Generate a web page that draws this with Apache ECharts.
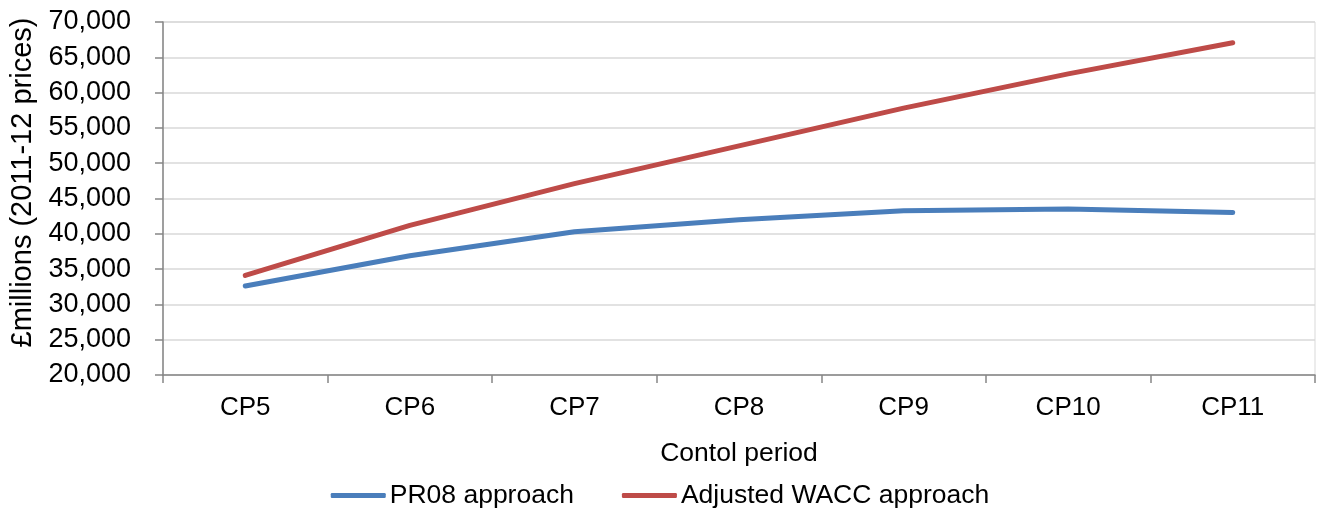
<!DOCTYPE html>
<html>
<head>
<meta charset="utf-8">
<script src="https://cdn.jsdelivr.net/npm/echarts@6/dist/echarts.min.js"></script>
<style>
html,body{margin:0;padding:0;background:#fff;}
#c{width:1320px;height:514px;}
</style>
</head>
<body>
<div id="c"></div>
<script>
var categories = ['CP5','CP6','CP7','CP8','CP9','CP10','CP11'];
var pr08 = [32600, 36900, 40300, 42000, 43250, 43500, 43000];
var wacc = [34100, 41200, 47100, 52450, 57800, 62650, 67050];
var seriesNames = ['PR08 approach', 'Adjusted WACC approach'];

var FONT = 'Liberation Sans';
var chart = echarts.init(document.getElementById('c'));
chart.setOption({
  animation: false,
  textStyle: {fontFamily: FONT, color: '#000'},
  grid: {left: 163, right: 5, top: 22, bottom: 139, show: true, borderColor: '#d9d9d9', borderWidth: 1,
         containLabel: false, outerBoundsMode: 'none'},
  legend: {
    data: seriesNames,
    bottom: 0,
    left: 'center',
    icon: 'roundRect',
    itemWidth: 55,
    itemHeight: 5,
    itemGap: 48,
    textStyle: {fontFamily: FONT, fontSize: 26.5, color: '#000', padding: [0,0,0,-1]}
  },
  xAxis: {
    type: 'category',
    data: categories,
    boundaryGap: true,
    name: 'Contol period',
    nameLocation: 'middle',
    nameGap: 65,
    nameTextStyle: {fontFamily: FONT, fontSize: 26.5, color: '#000'},
    axisLine: {show: true, lineStyle: {color: '#868686', width: 1.5}},
    axisTick: {show: true, length: 8, lineStyle: {color: '#868686', width: 1.5}},
    axisLabel: {fontFamily: FONT, fontSize: 26, color: '#000', margin: 20},
    splitLine: {show: false}
  },
  yAxis: {
    type: 'value',
    min: 20000,
    max: 70000,
    interval: 5000,
    name: '£millions (2011-12 prices)',
    nameLocation: 'middle',
    nameGap: 125,
    nameTextStyle: {fontFamily: FONT, fontSize: 29, color: '#000', padding: [0,0,0,32]},
    axisLine: {show: true, lineStyle: {color: '#868686', width: 1.5}},
    axisTick: {show: true, length: 8, lineStyle: {color: '#868686', width: 1.5}},
    axisLabel: {fontFamily: FONT, fontSize: 27, color: '#000', margin: 32,
      formatter: function(v){ return v.toLocaleString('en-US'); }},
    splitLine: {show: true, lineStyle: {color: '#d9d9d9', width: 1.5}}
  },
  series: [
    {name: seriesNames[0], type: 'line', data: pr08, showSymbol: false, symbol: 'none',
     itemStyle: {color: '#4a7ebb'}, lineStyle: {color: '#4a7ebb', width: 5, cap: 'round', join: 'round'}},
    {name: seriesNames[1], type: 'line', data: wacc, showSymbol: false, symbol: 'none',
     itemStyle: {color: '#be4b48'}, lineStyle: {color: '#be4b48', width: 5, cap: 'round', join: 'round'}}
  ]
});
</script>
</body>
</html>
